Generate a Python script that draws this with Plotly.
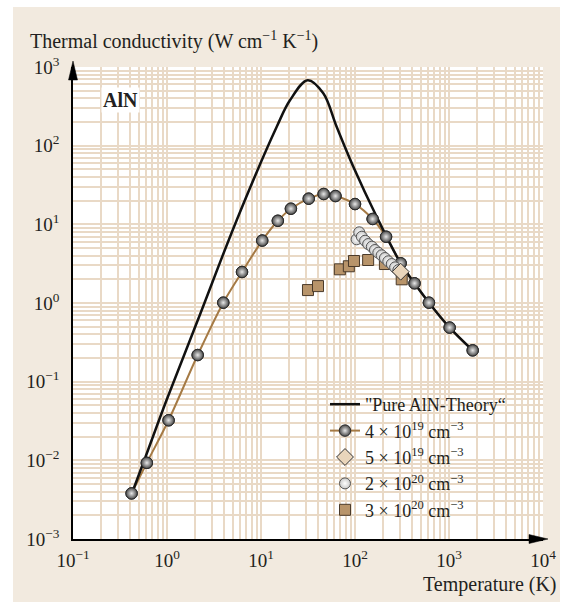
import plotly.graph_objects as go

# ---- data ----
T_theory = [0.42, 0.56, 0.99, 2.24, 5.51, 14.7, 20.4, 31.4, 46.0, 63.8, 96, 170, 306, 430, 612, 1016, 1787]
k_theory = [0.0037, 0.0093, 0.0585, 0.71, 11.3, 174, 380, 680, 463, 174, 54, 12.5, 3.2, 1.78, 1.01, 0.487, 0.25]

T_4e19 = [0.42, 0.61, 1.04, 2.12, 3.97, 6.28, 10.3, 15.1, 20.8, 32.2, 46.4, 62.0, 100, 154, 214, 306, 430, 612, 1016, 1787]
k_4e19 = [0.0038, 0.0093, 0.0323, 0.218, 1.01, 2.48, 6.22, 11.1, 15.8, 21.2, 24.3, 22.9, 18.1, 11.7, 6.96, 3.2, 1.78, 1.01, 0.487, 0.25]

T_5e19 = [306]
k_5e19 = [2.5]

T_2e20 = [104, 111, 118, 128, 138, 151, 163, 177, 192, 208, 226, 246, 267, 289]
k_2e20 = [6.45, 7.92, 6.96, 6.19, 5.62, 5.2, 4.72, 4.36, 4.04, 3.73, 3.39, 3.13, 2.84, 2.62]

T_3e20 = [31.6, 40.4, 69, 86, 97.5, 138, 208, 314]
k_3e20 = [1.46, 1.64, 2.68, 2.93, 3.42, 3.52, 3.13, 2.0]

x_tickvals = [0.1, 1, 10, 100, 1000, 10000]
x_ticktext = ["10<sup>−1</sup>", "10<sup>0</sup>", "10<sup>1</sup>", "10<sup>2</sup>", "10<sup>3</sup>", "10<sup>4</sup>"]
y_tickvals = [0.001, 0.01, 0.1, 1, 10, 100, 1000]
y_ticktext = ["10<sup>−3</sup>", "10<sup>−2</sup>", "10<sup>−1</sup>", "10<sup>0</sup>", "10<sup>1</sup>", "10<sup>2</sup>", "10<sup>3</sup>"]

names = ['"Pure AlN-Theory“',
         "4 × 10<sup>19</sup> cm<sup>−3</sup>",
         "5 × 10<sup>19</sup> cm<sup>−3</sup>",
         "2 × 10<sup>20</sup> cm<sup>−3</sup>",
         "3 × 10<sup>20</sup> cm<sup>−3</sup>"]

# ---- styles ----
FONT = "Liberation Serif"
INK = "#231f20"
GRID = "#e9d9c6"
BEIGE = "#f2eadf"
BROWN = "#a57a45"

fig = go.Figure()

sphere = dict(size=11.5, color="#474747", symbol="circle",
              gradient=dict(type="radial", color="#e8e8e8"),
              line=dict(color="#2b2b2b", width=1))

fig.add_trace(go.Scatter(x=T_4e19, y=k_4e19, mode="lines+markers", name=names[1],
                         line=dict(color=BROWN, width=2, shape="spline", smoothing=0.8),
                         marker=sphere, legendrank=2, legendgroup="b"))
fig.add_trace(go.Scatter(x=T_theory, y=k_theory, mode="lines", name=names[0],
                         line=dict(color="#111111", width=2.5, shape="spline", smoothing=1.0),
                         legendrank=1, legendgroup="a"))
fig.add_trace(go.Scatter(x=T_3e20, y=k_3e20, mode="markers", name=names[4],
                         marker=dict(size=11, symbol="square", color="#b8946a",
                                     line=dict(color="#4a3a2a", width=1)),
                         legendrank=5, legendgroup="e"))
fig.add_trace(go.Scatter(x=T_4e19, y=k_4e19, mode="markers", showlegend=False,
                         marker=sphere, legendgroup="b"))
fig.add_trace(go.Scatter(x=T_2e20, y=k_2e20, mode="markers", name=names[3],
                         marker=dict(size=11, symbol="circle", color="#c9c9c9",
                                     gradient=dict(type="radial", color="#ffffff"),
                                     line=dict(color="#555555", width=1)),
                         legendrank=4, legendgroup="d"))
fig.add_trace(go.Scatter(x=T_5e19, y=k_5e19, mode="markers", name=names[2],
                         marker=dict(size=13, symbol="diamond", color="#e9d5bb",
                                     line=dict(color="#333333", width=1)),
                         legendrank=3, legendgroup="c"))

L, R, T, B = 73, 29, 67, 69
W, H = 572, 608
pw, ph = W - L - R, H - T - B

def px(x):
    return (x - L) / pw

def py(y):
    return (H - B - y) / ph

shapes = [
    dict(type="rect", xref="paper", yref="paper", x0=px(13), x1=px(560), y0=py(602), y1=py(7),
         fillcolor=BEIGE, line=dict(width=0), layer="below"),
    dict(type="rect", xref="paper", yref="paper", x0=0, x1=1, y0=0, y1=1,
         fillcolor="white", line=dict(width=0), layer="below"),
    dict(type="rect", xref="paper", yref="paper", x0=px(322), x1=1, y0=py(523), y1=py(392),
         fillcolor="white", line=dict(width=0), layer="between"),
    dict(type="path", xref="paper", yref="paper",
         path=f"M {px(73)} {py(61)} L {px(68.5)} {py(80)} L {px(77.5)} {py(80)} Z",
         fillcolor="black", line=dict(color="black", width=0.5), layer="above"),
    dict(type="path", xref="paper", yref="paper",
         path=f"M {px(548)} {py(539)} L {px(529)} {py(534.5)} L {px(529)} {py(543.5)} Z",
         fillcolor="black", line=dict(color="black", width=0.5), layer="above"),
]

axis_common = dict(type="log", showline=True, linecolor="black", linewidth=1.5,
                   showgrid=True, gridcolor=GRID, gridwidth=1.8, zeroline=False,
                   ticks="", tickfont=dict(family=FONT, size=19, color=INK),
                   minor=dict(dtick="D1", showgrid=True, gridcolor=GRID, gridwidth=1.8, ticks=""))

fig.update_layout(
    width=W, height=H, autosize=False,
    margin=dict(l=L, r=R, t=T, b=B),
    paper_bgcolor="white", plot_bgcolor="white",
    font=dict(family=FONT, size=18, color=INK),
    xaxis=dict(range=[-1, 4], tickmode="array", tickvals=x_tickvals, ticktext=x_ticktext,
               ticklabelstandoff=3, **axis_common),
    yaxis=dict(range=[-3, 3], tickmode="array", tickvals=y_tickvals, ticktext=y_ticktext,
               ticklabelstandoff=8, **axis_common),
    shapes=shapes,
    legend=dict(x=px(325), y=py(386), xanchor="left", yanchor="top",
                bgcolor="rgba(0,0,0,0)", borderwidth=0, tracegroupgap=0,
                font=dict(family=FONT, size=18, color=INK)),
    showlegend=True,
    annotations=[
        dict(text="Thermal conductivity (W cm<sup>−1</sup> K<sup>−1</sup>)", xref="paper", yref="paper",
             x=px(28), y=py(41), xanchor="left", yanchor="middle", showarrow=False,
             font=dict(family=FONT, size=20, color=INK)),
        dict(text="Temperature (K)", xref="paper", yref="paper",
             x=px(559), y=py(584), xanchor="right", yanchor="middle", showarrow=False,
             font=dict(family=FONT, size=20, color=INK)),
        dict(text="<b>AlN</b>", xref="paper", yref="paper",
             x=px(120), y=py(100), xanchor="center", yanchor="middle", showarrow=False,
             bgcolor="white", font=dict(family=FONT, size=20, color=INK)),
    ],
)

fig.write_html("out.html")
